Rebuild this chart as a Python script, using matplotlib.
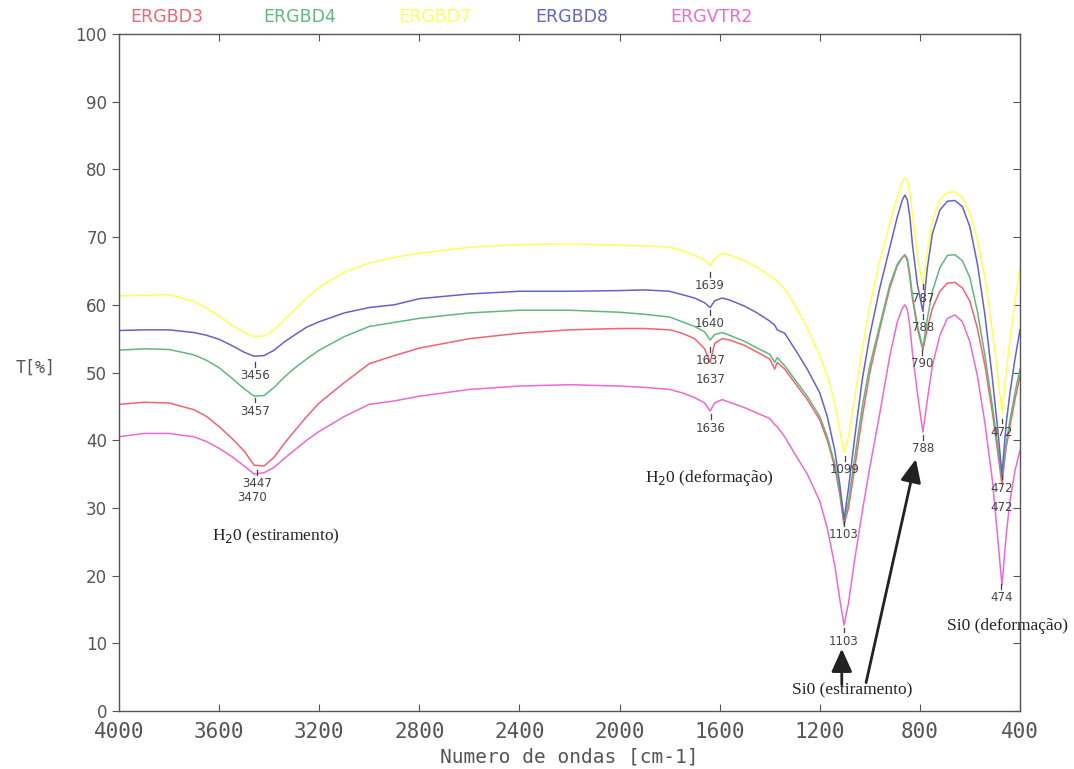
import matplotlib
matplotlib.use("Agg")
import matplotlib.pyplot as plt
import matplotlib.lines as mlines

# ---------------- data ----------------
wavenumber = [4000, 3900, 3800, 3700, 3650, 3600, 3550, 3500, 3460, 3420, 3380, 3340, 3300, 3250,
              3200, 3100, 3000, 2900, 2800, 2600, 2400, 2200, 2000, 1900, 1800, 1750, 1700, 1660,
              1638, 1620, 1590, 1560, 1500, 1450, 1400, 1380, 1370, 1340, 1300, 1250, 1200, 1170,
              1140, 1120, 1103, 1085, 1060, 1030, 1000, 960, 920, 890, 870, 860, 850, 840, 830, 810, 788,
              770, 750, 720, 690, 660, 630, 600, 570, 540, 510, 490, 472, 455, 440, 420, 400]

ergbd7 = [61.3, 61.4, 61.5, 60.5, 59.5, 58.3, 57.0, 55.9, 55.3, 55.4, 56.3, 57.8, 59.2, 61.0,
          62.6, 64.8, 66.2, 67.0, 67.6, 68.5, 68.9, 69.0, 68.8, 68.7, 68.5, 68.0, 67.3, 66.6,
          65.8, 66.8, 67.6, 67.3, 66.5, 65.5, 64.3, 63.8, 63.5, 62.3, 60.0, 56.5, 52.5, 49.5,
          45.5, 41.5, 38.2, 40.5, 46.5, 53.5, 60.0, 66.5, 72.0, 76.0, 78.2, 78.7, 78.3, 76.5, 73.5, 67.0, 63.0,
          68.0, 72.5, 75.5, 76.6, 76.7, 75.8, 73.5, 69.5, 64.0, 56.0, 50.0, 44.0, 50.0, 55.0, 60.5, 65.5]

ergbd8 = [56.2, 56.3, 56.3, 55.9, 55.5, 54.9, 54.0, 53.0, 52.4, 52.5, 53.3, 54.5, 55.5, 56.7,
          57.5, 58.8, 59.6, 60.0, 60.9, 61.6, 62.0, 62.0, 62.1, 62.2, 62.0, 61.5, 61.0, 60.3,
          59.6, 60.6, 61.0, 60.7, 59.8, 58.8, 57.6, 57.0, 56.3, 55.8, 53.5, 50.5, 47.0, 43.5,
          38.5, 33.5, 28.3, 33.0, 40.5, 49.0, 55.5, 62.5, 68.5, 73.0, 75.5, 76.2, 75.5, 73.0, 69.0, 63.0, 59.0,
          65.5, 70.5, 74.0, 75.3, 75.4, 74.5, 71.5, 66.0, 58.5, 49.0, 42.0, 35.0, 42.5, 47.0, 52.0, 56.3]

ergbd4 = [53.3, 53.5, 53.4, 52.6, 51.8, 50.7, 49.2, 47.6, 46.5, 46.6, 47.8, 49.3, 50.6, 52.0,
          53.3, 55.3, 56.8, 57.4, 58.0, 58.8, 59.2, 59.2, 58.9, 58.6, 58.2, 57.5, 56.8, 56.0,
          54.8, 55.6, 55.9, 55.5, 54.6, 53.6, 52.7, 51.5, 52.2, 51.0, 49.0, 46.5, 43.5, 40.5,
          36.5, 32.5, 27.8, 31.0, 37.5, 45.0, 51.0, 57.0, 63.0, 66.0, 67.0, 67.4, 66.8, 64.5, 61.5, 57.0, 53.6,
          58.0, 62.0, 65.5, 67.3, 67.4, 66.5, 64.0, 59.0, 52.5, 45.0, 39.5, 34.3, 39.5, 43.0, 47.0, 50.5]

ergbd3 = [45.3, 45.6, 45.5, 44.5, 43.5, 42.0, 40.3, 38.4, 36.3, 36.2, 37.5, 39.5, 41.3, 43.5,
          45.5, 48.5, 51.3, 52.5, 53.6, 55.0, 55.8, 56.3, 56.5, 56.5, 56.3, 55.8, 55.0, 53.5,
          51.5, 54.3, 55.0, 54.8, 54.0, 53.0, 52.0, 50.5, 51.5, 50.5, 48.5, 46.0, 43.0, 40.0,
          36.0, 32.0, 27.5, 30.0, 36.0, 43.5, 50.0, 56.5, 62.5, 65.8, 67.0, 67.3, 66.5, 64.0, 61.0, 56.5, 53.3,
          56.5, 59.5, 62.0, 63.2, 63.3, 62.5, 60.5, 56.5, 51.0, 44.0, 38.5, 33.5, 39.0, 42.0, 46.0, 49.5]

ergvtr2 = [40.5, 41.0, 41.0, 40.5, 39.8, 38.8, 37.6, 36.2, 35.0, 35.2, 36.0, 37.3, 38.5, 40.0,
           41.3, 43.5, 45.3, 45.8, 46.5, 47.5, 48.0, 48.2, 48.0, 47.8, 47.5, 47.0, 46.3, 45.5,
           44.3, 45.5, 46.0, 45.6, 44.8, 44.0, 43.2, 42.3, 42.0, 40.5, 38.0, 35.0, 31.0, 27.0,
           21.5, 16.5, 12.7, 16.0, 22.5, 29.5, 36.0, 44.0, 52.5, 57.5, 59.5, 60.0, 59.3, 56.8, 53.0, 47.0, 41.2,
           46.0, 51.0, 55.5, 58.0, 58.5, 57.5, 54.5, 49.5, 42.5, 34.0, 26.0, 18.6, 26.0, 31.0, 35.5, 38.5]

series_names = ["ERGBD3", "ERGBD4", "ERGBD7", "ERGBD8", "ERGVTR2"]
series_values = [ergbd3, ergbd4, ergbd7, ergbd8, ergvtr2]
series_colors = ["#f06473", "#62b77e", "#ffff55", "#6464c4", "#ee6ad0"]

peak_text = ["3456", "3457", "3447", "3470", "1639", "1640", "1637", "1637", "1636",
             "1099", "1103", "1103", "787", "788", "790", "788", "472", "472", "472", "474"]
peak_wn = [3456, 3457, 3447, 3470, 1639, 1640, 1637, 1637, 1636,
           1099, 1103, 1103, 787, 788, 790, 788, 472, 472, 472, 474]
peak_y = [49.5, 44.3, 33.6, 31.6, 62.8, 57.2, 51.8, 49.0, 41.8,
          35.6, 26.0, 10.3, 61.0, 56.6, 51.3, 38.8, 41.2, 32.9, 30.1, 16.7]
peak_tick = [True, True, True, False, True, True, True, False, True,
             True, True, True, True, True, True, True, True, True, False, True]

x_ticks = [4000, 3600, 3200, 2800, 2400, 2000, 1600, 1200, 800, 400]
y_ticks = [0, 10, 20, 30, 40, 50, 60, 70, 80, 90, 100]

# ---------------- figure ----------------
fig = plt.figure(figsize=(10.74, 7.69), dpi=100)
ax = fig.add_axes([0.1108, 0.0754, 0.8389, 0.8804])

for vals, col in zip(series_values, series_colors):
    ax.plot(wavenumber, vals, color=col, lw=1.1)

ax.set_xlim(4000, 400)
ax.set_ylim(0, 100)
ax.set_xticks(x_ticks)
ax.set_yticks(y_ticks)

axis_col = "#555555"
for s in ax.spines.values():
    s.set_color(axis_col)
    s.set_linewidth(1.0)

ax.tick_params(axis="y", which="both", direction="out", left=True, right=True,
               length=5, color=axis_col, labelsize=12, labelcolor="#555555")
ax.tick_params(axis="x", which="both", direction="in", top=True, bottom=True,
               length=5, color=axis_col, labelcolor="#555555", pad=8)
for lab in ax.get_xticklabels():
    lab.set_fontfamily("DejaVu Sans Mono")
    lab.set_fontsize(15)
# right-hand ticks point inward
for t in ax.yaxis.get_major_ticks():
    t.tick2line.set_marker(mlines.TICKLEFT)

ax.set_xlabel("Numero de ondas [cm-1]", fontfamily="DejaVu Sans Mono", fontsize=14,
              color="#555555", labelpad=4)
fig.text(0.033, 0.522, "T[%]", fontfamily="DejaVu Sans Mono", fontsize=12,
         color="#555555", ha="center", va="center")

# series names on top
name_x = [0.053, 0.201, 0.351, 0.503, 0.658]
for name, col, xx in zip(series_names, series_colors, name_x):
    ax.text(xx, 1.025, name, transform=ax.transAxes, color=col, fontsize=12.5,
            ha="center", va="center", fontfamily="DejaVu Sans")

# peak labels
for txt, w, yy, tk in zip(peak_text, peak_wn, peak_y, peak_tick):
    ax.text(w, yy, txt, ha="center", va="center", fontsize=8.5, color="#444444")
    if tk:
        ax.plot([w, w], [yy + 1.3, yy + 2.0], color="#444444", lw=0.9)

serif = "Liberation Serif"
ax.text(3373, 25.8, "H$_2$0 (estiramento)", ha="center", va="center",
        fontfamily=serif, fontsize=12.5, color="#222222")
ax.text(1640, 34.4, "H$_2$0 (deformação)", ha="center", va="center",
        fontfamily=serif, fontsize=12.5, color="#222222")
ax.text(1071, 3.0, "Si0 (estiramento)", ha="center", va="center",
        fontfamily=serif, fontsize=12.5, color="#222222")
ax.text(448, 12.6, "Si0 (deformação)", ha="center", va="center",
        fontfamily=serif, fontsize=12.5, color="#222222", clip_on=False)

arrow_kw = dict(arrowstyle="-|>,head_width=0.45,head_length=1.0", color="#222222",
                lw=2.0, mutation_scale=14, shrinkA=0, shrinkB=0)
ax.annotate("", xy=(1112, 9.2), xytext=(1112, 3.9), arrowprops=arrow_kw)
ax.annotate("", xy=(816, 37.2), xytext=(1015, 4.2), arrowprops=arrow_kw)

fig.savefig("out.png", dpi=100, facecolor="white")
